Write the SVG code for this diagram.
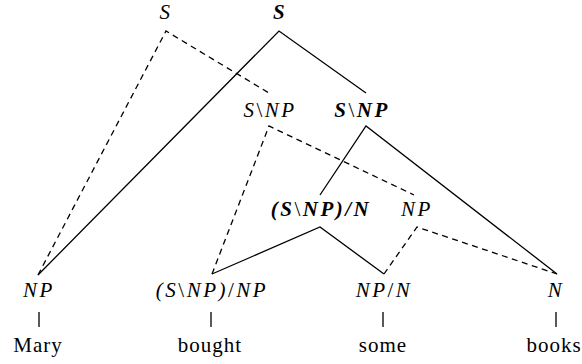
<svg xmlns="http://www.w3.org/2000/svg" width="582" height="364" viewBox="0 0 582 364" font-family="Liberation Serif, DejaVu Serif, serif">
<style>
text{font-family:Liberation Serif,DejaVu Serif,serif;font-size:21px;fill:#000;text-anchor:middle}
.m{font-style:italic;letter-spacing:2.5px}
.b{font-weight:bold}
.u{font-style:normal;font-weight:normal}
.w{letter-spacing:1px}
.s{stroke:#000;stroke-width:1.3;fill:none;stroke-linejoin:miter}
.d{stroke:#000;stroke-width:1.3;fill:none;stroke-dasharray:6 4.5}
</style>
<rect width="582" height="364" fill="#fff"/>
<g id="connectors">
<path class="d" d="M38,275 L166,31 L269,93"/>
<path class="d" d="M212,274 L269,126 L414,195"/>
<path class="d" d="M384,274 L417,227 L557,274"/>
<path class="s" d="M38,275 L279,31 L366,93"/>
<path class="s" d="M320,195 L366,126 L557,274"/>
<path class="s" d="M212,274 L320,227 L384,274"/>
<path class="s" d="M39,312 V327 M211,312 V327 M383,312 V327 M556,312 V327"/>
</g>
<g id="node-S-dashed"><text class="m" x="166" y="19">S</text></g>
<g id="node-S-bold"><text class="m b" x="280" y="19">S</text></g>
<g id="node-SNP-dashed"><text class="m" x="270" y="117">S<tspan class="u">\</tspan>NP</text></g>
<g id="node-SNP-bold"><text class="m b" x="362" y="117">S<tspan class="u">\</tspan>NP</text></g>
<g id="node-SNPN-bold"><text class="m b" x="321" y="216">(S<tspan class="u">\</tspan>NP)/N</text></g>
<g id="node-NP-dashed"><text class="m" x="417" y="216">NP</text></g>
<g id="node-NP"><text class="m" x="39" y="297">NP</text></g>
<g id="node-SNPNP"><text class="m" x="212" y="297">(S<tspan class="u">\</tspan>NP)<tspan class="u">/</tspan>NP</text></g>
<g id="node-NPN"><text class="m" x="384" y="297">NP<tspan class="u">/</tspan>N</text></g>
<g id="node-N"><text class="m" x="556" y="297">N</text></g>
<g id="word-Mary"><text class="w" x="38" y="352" font-family="Liberation Serif">Mary</text></g>
<g id="word-bought"><text class="w" x="210" y="352">bought</text></g>
<g id="word-some"><text class="w" x="383" y="352">some</text></g>
<g id="word-books"><text class="w" x="554" y="352">books</text></g>
</svg>
